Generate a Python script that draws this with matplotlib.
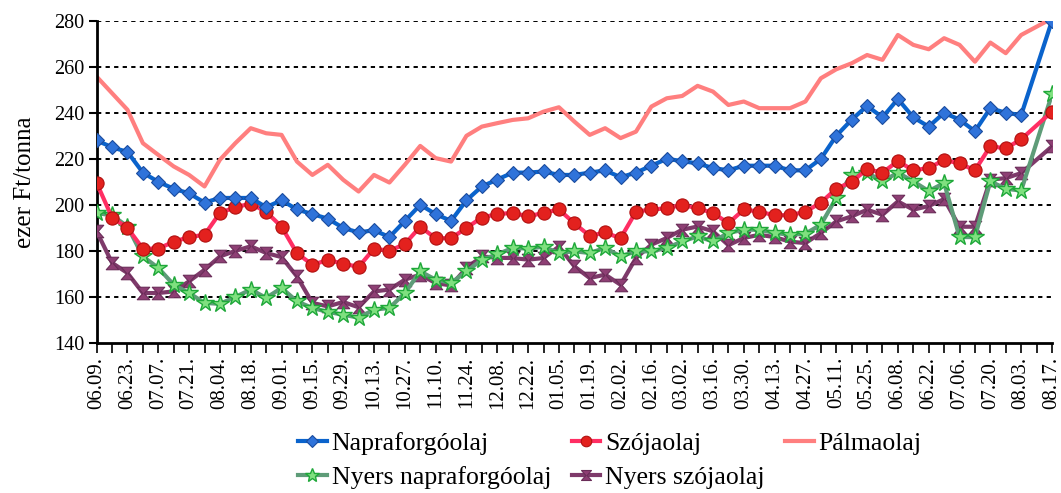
import numpy as np
import matplotlib
matplotlib.use("Agg")
import matplotlib.pyplot as plt
from matplotlib.path import Path

# tick labels (every second week)
tick_labels = ["06.09.", "06.23.", "07.07.", "07.21.", "08.04.", "08.18.", "09.01.", "09.15.",
               "09.29.", "10.13.", "10.27.", "11.10.", "11.24.", "12.08.", "12.22.", "01.05.",
               "01.19.", "02.02.", "02.16.", "03.02.", "03.16.", "03.30.", "04.13.", "04.27.",
               "05.11.", "05.25.", "06.08.", "06.22.", "07.06.", "07.20.", "08.03.", "08.17."]

N = np.nan  # week 08.10. has no data

napraforgo = [228, 225, 223, 214, 210, 207, 205, 201, 203, 203, 203, 199, 202, 198, 196, 194,
              190, 188, 189, 186, 193, 200, 196, 193, 202, 208, 211, 214, 214, 214.5, 213, 213,
              214, 215, 212, 214, 217, 220, 219, 218, 216, 215, 217, 217, 217, 215, 215, 220,
              230, 237, 243, 238, 246, 238, 234, 240, 237, 232, 242, 240, 239, N, 280]

szoja = [209.5, 194.5, 190, 181, 181, 184, 186, 187, 196.5, 199, 200.5, 197, 190.5, 179, 174, 176,
         174.5, 173, 181, 180, 183, 190.5, 185.5, 185.5, 190, 194.5, 196, 196.5, 195, 196.5, 198, 192,
         186.5, 188, 185.5, 197, 198, 198.5, 200, 198.5, 196.5, 192, 198, 197, 195.5, 195.5, 197, 201,
         207, 210, 215.5, 214, 219, 215, 216, 219.5, 218, 215, 225.5, 224.5, 228.5, N, 240.5]

palma = [255.7, 248.5, 241.3, 226.8, 221.7, 216.7, 213, 208, 219.6, 226.8, 233.3, 231.1, 230.4, 218.8,
         213, 217.4, 210.9, 205.8, 213, 209.7, 217.4, 225.6, 220.3, 218.8, 230, 234, 235.5, 236.9,
         237.6, 240.5, 242.4, 236.2, 230.4, 233.3, 229, 231.8, 242.7, 246.3, 247.3, 251.7, 249.2,
         243.4, 244.9, 242, 242, 242, 244.9, 255, 258.9, 261.5, 265.1, 263, 273.8, 269.5, 267.6,
         272.4, 269.5, 262.2, 270.5, 265.9, 273.8, N, 281]

nyers_napraforgo = [196.4, 195.5, 190.6, 177.6, 172.6, 165.3, 161.7, 157.4, 157, 160, 163.2, 159.6,
                    163.9, 158.1, 155.2, 153.5, 152.3, 151, 154.5, 155.2, 161.7, 171.1, 167.5, 166.1,
                    171.1, 176.2, 178.5, 181.3, 181, 181.8, 179.1, 179.8, 179.1, 181.3, 177.6, 179.8,
                    179.8, 181.3, 184.1, 186.3, 184.1, 187.8, 189.2, 189.2, 187.8, 187, 187.5, 191.4,
                    203, 213, 214, 210.2, 214, 210.2, 206, 209.5, 186, 186, 210.2, 207, 206.2, N, 248]

nyers_szoja = [188.5, 174.8, 170.4, 161.7, 161.7, 162.4, 166.8, 171.8, 177.6, 180, 182, 179.1, 177.3,
               168.9, 157.4, 155.9, 157.8, 155.5, 162.4, 163.2, 167.5, 169.7, 166, 165, 172.6, 177.6,
               177, 176.9, 176.2, 176.9, 181.9, 173.3, 168.2, 169.7, 165.3, 176.9, 182.7, 185.6, 189.2,
               190.6, 188.5, 182.5, 185.6, 187, 186, 184, 183.4, 187.8, 192.8, 195, 197.9, 195.7, 201.5,
               197.9, 199.5, 202.5, 190.5, 190.5, 211, 211.6, 213.8, N, 225.4]

plt.rcParams['font.family'] = ['Liberation Serif', 'DejaVu Serif']

hourglass = Path([(-1, 1), (1, 1), (0.12, 0), (1, -1), (-1, -1), (-0.12, 0), (-1, 1)],
                 [Path.MOVETO, Path.LINETO, Path.LINETO, Path.LINETO, Path.LINETO, Path.LINETO,
                  Path.CLOSEPOLY])

fig = plt.figure(figsize=(10.61, 4.93), dpi=100)
ax = fig.add_axes([0.0911, 0.3043, 0.9004, 0.6537])

x = np.arange(len(napraforgo))


def draw(vals, **kw):
    y = np.array(vals, dtype=float)
    m = ~np.isnan(y)
    return ax.plot(x[m], y[m], **kw)[0]


h_palma = draw(palma, color='#FF7F7F', lw=3, zorder=2, label='Pálmaolaj',
               solid_joinstyle='round')
h_nyszoja = draw(nyers_szoja, color='#7E3A6A', lw=3, marker=hourglass, ms=9,
                 mfc='#8E3F74', mec='#6A2C58', mew=0.8, zorder=3, label='Nyers szójaolaj')
h_nynapra = draw(nyers_napraforgo, color='#5E9C78', lw=3, marker='*', ms=13,
                 mfc='#7FE07F', mec='#1FA83A', mew=1.0, zorder=4, label='Nyers napraforgóolaj')
h_szoja = draw(szoja, color='#FF2E63', lw=3, marker='o', ms=9.5,
               mfc='#E3211E', mec='#B01010', mew=0.8, zorder=5, label='Szójaolaj')
h_napra = draw(napraforgo, color='#0A63CC', lw=3, marker='D', ms=7.5,
               mfc='#2F73DA', mec='#1A4C9E', mew=0.8, zorder=6, label='Napraforgóolaj')

ax.set_xlim(0, len(napraforgo) - 1)
ax.set_ylim(140, 280)
ax.set_yticks(np.arange(140, 281, 20))
ax.set_xticks(x)
labels = [''] * len(x)
for i, t in enumerate(tick_labels):
    labels[2 * i] = t
ax.set_xticklabels(labels, rotation=90, fontsize=15)
ax.tick_params(axis='y', labelsize=14.5, direction='out', length=6, width=1.5, pad=3)
ax.tick_params(axis='x', direction='out', length=7, width=1.2, pad=3)

for v in range(160, 281, 20):
    ax.axhline(v, color='black', lw=1.4, ls=(0, (2.2, 2.2)), zorder=1)

for s in ['top', 'right']:
    ax.spines[s].set_visible(False)
ax.spines['left'].set_linewidth(2)
ax.spines['bottom'].set_linewidth(2)

ax.set_ylabel('ezer Ft/tonna', fontsize=18, labelpad=13)

handles = [h_napra, h_nynapra, h_szoja, h_nyszoja, h_palma]
fig.legend(handles, [h.get_label() for h in handles], loc='center',
           bbox_to_anchor=(0.575, 0.066), ncol=3, frameon=False, fontsize=18.5,
           handlelength=1.1, handletextpad=0.2, columnspacing=0.8, labelspacing=0.42,
           markerscale=0.8)

fig.savefig('out.png', dpi=100)
